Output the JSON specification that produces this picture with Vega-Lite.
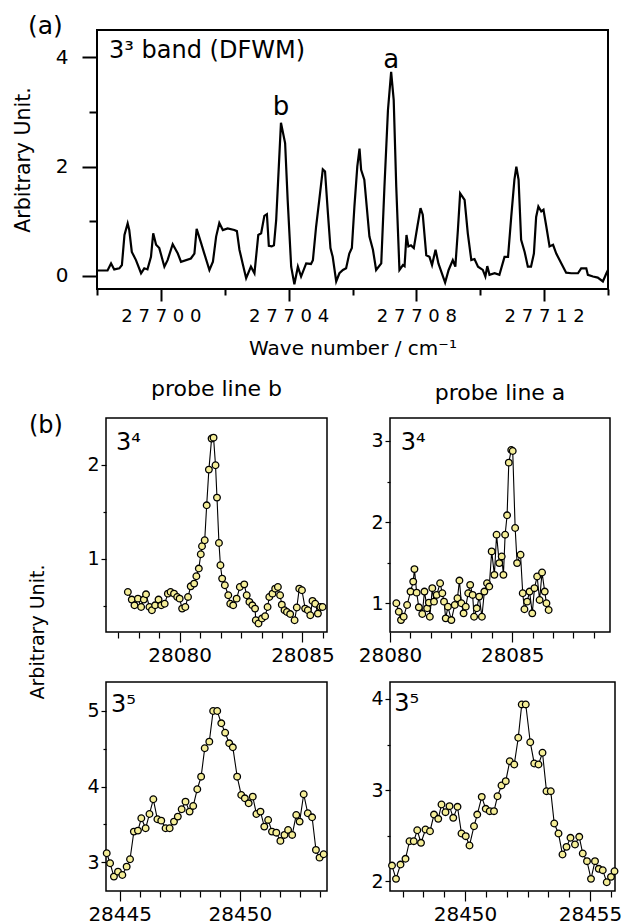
{
"$schema": "https://vega.github.io/schema/vega-lite/v6.json",
"background": "white",
"padding": {"left": 12, "top": 12, "right": 0, "bottom": 4},
"config": {
 "font": "DejaVu Sans",
 "view": {"stroke": "black", "strokeWidth": 1.5},
 "axis": {"domain": false, "grid": false, "labelFont": "DejaVu Sans", "titleFont": "DejaVu Sans", "labelColor": "black", "titleColor": "black", "tickColor": "black", "titleFontWeight": "normal", "labelFontSize": 19, "titleFontSize": 20, "labelFlush": false, "labelOverlap": false, "labelBound": false},
 "title": {"font": "DejaVu Sans", "fontWeight": "normal", "color": "black"},
 "text": {"font": "DejaVu Sans", "color": "black"}
},
"datasets": {
 "top": [
 {"x":27698.00,"y":0.10},{"x":27698.33,"y":0.10},{"x":27698.44,"y":0.23},{"x":27698.54,"y":0.12},{"x":27698.70,"y":0.14},{"x":27698.78,"y":0.20},{"x":27698.86,"y":0.75},{"x":27698.96,"y":0.96},{"x":27699.01,"y":0.84},{"x":27699.09,"y":0.44},{"x":27699.22,"y":0.29},{"x":27699.38,"y":0.05},{"x":27699.48,"y":0.14},{"x":27699.58,"y":0.12},{"x":27699.69,"y":0.35},{"x":27699.76,"y":0.78},{"x":27699.85,"y":0.57},{"x":27699.95,"y":0.51},{"x":27700.11,"y":0.17},{"x":27700.21,"y":0.29},{"x":27700.37,"y":0.58},{"x":27700.53,"y":0.41},{"x":27700.63,"y":0.26},{"x":27700.94,"y":0.32},{"x":27701.05,"y":0.41},{"x":27701.12,"y":0.86},{"x":27701.26,"y":0.60},{"x":27701.36,"y":0.41},{"x":27701.52,"y":0.11},{"x":27701.63,"y":0.26},{"x":27701.73,"y":0.72},{"x":27701.83,"y":0.97},{"x":27701.94,"y":0.84},{"x":27702.09,"y":0.87},{"x":27702.30,"y":0.84},{"x":27702.38,"y":0.82},{"x":27702.46,"y":0.48},{"x":27702.56,"y":0.23},{"x":27702.67,"y":-0.04},{"x":27702.82,"y":0.17},{"x":27702.93,"y":0.05},{"x":27703.05,"y":0.75},{"x":27703.14,"y":0.78},{"x":27703.24,"y":1.10},{"x":27703.32,"y":1.13},{"x":27703.38,"y":0.55},{"x":27703.47,"y":0.54},{"x":27703.54,"y":0.56},{"x":27703.61,"y":1.02},{"x":27703.76,"y":2.80},{"x":27703.89,"y":2.43},{"x":27703.97,"y":1.39},{"x":27704.08,"y":0.17},{"x":27704.18,"y":-0.15},{"x":27704.29,"y":0.17},{"x":27704.39,"y":-0.01},{"x":27704.55,"y":0.23},{"x":27704.70,"y":0.22},{"x":27704.76,"y":0.29},{"x":27704.86,"y":0.90},{"x":27704.96,"y":1.39},{"x":27705.07,"y":1.95},{"x":27705.14,"y":1.91},{"x":27705.23,"y":1.15},{"x":27705.31,"y":0.51},{"x":27705.38,"y":0.35},{"x":27705.49,"y":-0.10},{"x":27705.59,"y":0.05},{"x":27705.70,"y":0.11},{"x":27705.80,"y":0.14},{"x":27705.90,"y":0.41},{"x":27705.98,"y":0.51},{"x":27706.06,"y":1.27},{"x":27706.15,"y":2.00},{"x":27706.22,"y":2.33},{"x":27706.27,"y":1.94},{"x":27706.37,"y":1.76},{"x":27706.53,"y":0.72},{"x":27706.64,"y":0.48},{"x":27706.74,"y":0.11},{"x":27706.90,"y":0.23},{"x":27707.00,"y":1.63},{"x":27707.11,"y":3.03},{"x":27707.21,"y":3.73},{"x":27707.29,"y":3.22},{"x":27707.37,"y":1.63},{"x":27707.47,"y":0.11},{"x":27707.58,"y":0.20},{"x":27707.63,"y":0.18},{"x":27707.69,"y":0.75},{"x":27707.75,"y":0.54},{"x":27707.83,"y":0.56},{"x":27707.92,"y":0.51},{"x":27708.03,"y":0.90},{"x":27708.13,"y":1.24},{"x":27708.20,"y":1.12},{"x":27708.31,"y":0.38},{"x":27708.41,"y":0.35},{"x":27708.49,"y":0.20},{"x":27708.60,"y":0.48},{"x":27708.69,"y":0.23},{"x":27708.78,"y":0.08},{"x":27708.90,"y":-0.12},{"x":27709.01,"y":0.11},{"x":27709.14,"y":0.29},{"x":27709.22,"y":0.17},{"x":27709.30,"y":0.84},{"x":27709.37,"y":1.51},{"x":27709.51,"y":1.39},{"x":27709.61,"y":0.78},{"x":27709.72,"y":0.29},{"x":27709.82,"y":0.31},{"x":27709.93,"y":0.17},{"x":27710.08,"y":0.11},{"x":27710.16,"y":-0.01},{"x":27710.22,"y":0.18},{"x":27710.29,"y":0.02},{"x":27710.45,"y":0.05},{"x":27710.60,"y":0.02},{"x":27710.76,"y":0.35},{"x":27710.87,"y":0.35},{"x":27710.97,"y":1.08},{"x":27711.07,"y":1.76},{"x":27711.13,"y":2.00},{"x":27711.20,"y":1.76},{"x":27711.28,"y":0.66},{"x":27711.39,"y":0.44},{"x":27711.49,"y":0.17},{"x":27711.59,"y":0.17},{"x":27711.68,"y":0.41},{"x":27711.75,"y":1.08},{"x":27711.82,"y":1.27},{"x":27711.91,"y":1.18},{"x":27711.98,"y":1.21},{"x":27712.07,"y":0.90},{"x":27712.17,"y":0.54},{"x":27712.28,"y":0.57},{"x":27712.38,"y":0.41},{"x":27712.54,"y":0.23},{"x":27712.69,"y":0.06},{"x":27712.85,"y":0.05},{"x":27713.06,"y":0.05},{"x":27713.16,"y":0.14},{"x":27713.32,"y":0.14},{"x":27713.37,"y":0.02},{"x":27713.53,"y":-0.01},{"x":27713.68,"y":-0.03},{"x":27713.84,"y":-0.10},{"x":27713.95,"y":0.05},{"x":27714.00,"y":0.11}
 ],
 "b1": [
 {"x":28077.89,"y":0.645},{"x":28078.05,"y":0.564},{"x":28078.16,"y":0.503},{"x":28078.30,"y":0.574},{"x":28078.43,"y":0.485},{"x":28078.54,"y":0.564},{"x":28078.63,"y":0.620},{"x":28078.77,"y":0.485},{"x":28078.87,"y":0.45},{"x":28079.00,"y":0.503},{"x":28079.14,"y":0.564},{"x":28079.25,"y":0.503},{"x":28079.39,"y":0.52},{"x":28079.52,"y":0.627},{"x":28079.63,"y":0.645},{"x":28079.77,"y":0.627},{"x":28079.90,"y":0.592},{"x":28080.00,"y":0.574},{"x":28080.10,"y":0.468},{"x":28080.23,"y":0.485},{"x":28080.34,"y":0.592},{"x":28080.45,"y":0.705},{"x":28080.59,"y":0.734},{"x":28080.68,"y":0.812},{"x":28080.78,"y":0.894},{"x":28080.86,"y":1.046},{"x":28080.91,"y":1.131},{"x":28081.02,"y":1.195},{"x":28081.10,"y":1.567},{"x":28081.19,"y":1.947},{"x":28081.30,"y":2.277},{"x":28081.38,"y":2.287},{"x":28081.46,"y":1.993},{"x":28081.52,"y":1.649},{"x":28081.60,"y":1.166},{"x":28081.66,"y":0.929},{"x":28081.73,"y":0.787},{"x":28081.84,"y":0.716},{"x":28081.98,"y":0.610},{"x":28082.06,"y":0.52},{"x":28082.18,"y":0.503},{"x":28082.32,"y":0.574},{"x":28082.45,"y":0.698},{"x":28082.63,"y":0.726},{"x":28082.73,"y":0.610},{"x":28082.84,"y":0.539},{"x":28082.96,"y":0.503},{"x":28083.07,"y":0.468},{"x":28083.10,"y":0.344},{"x":28083.21,"y":0.309},{"x":28083.35,"y":0.362},{"x":28083.48,"y":0.387},{"x":28083.58,"y":0.485},{"x":28083.65,"y":0.592},{"x":28083.78,"y":0.627},{"x":28083.89,"y":0.68},{"x":28084.00,"y":0.698},{"x":28084.09,"y":0.61},{"x":28084.16,"y":0.51},{"x":28084.27,"y":0.45},{"x":28084.37,"y":0.432},{"x":28084.50,"y":0.41},{"x":28084.68,"y":0.344},{"x":28084.77,"y":0.48},{"x":28084.87,"y":0.68},{"x":28084.98,"y":0.663},{"x":28085.11,"y":0.468},{"x":28085.22,"y":0.45},{"x":28085.32,"y":0.397},{"x":28085.41,"y":0.55},{"x":28085.52,"y":0.52},{"x":28085.63,"y":0.415},{"x":28085.73,"y":0.485},{"x":28085.82,"y":0.485}
 ],
 "b2": [
 {"x":28080.26,"y":1.0},{"x":28080.36,"y":0.896},{"x":28080.45,"y":0.793},{"x":28080.56,"y":0.834},{"x":28080.70,"y":0.979},{"x":28080.84,"y":1.144},{"x":28080.95,"y":1.267},{"x":28081.00,"y":1.421},{"x":28081.09,"y":1.131},{"x":28081.18,"y":0.95},{"x":28081.32,"y":0.868},{"x":28081.41,"y":1.144},{"x":28081.52,"y":0.938},{"x":28081.59,"y":1.008},{"x":28081.63,"y":0.834},{"x":28081.73,"y":1.186},{"x":28081.80,"y":1.02},{"x":28081.91,"y":1.103},{"x":28082.05,"y":1.247},{"x":28082.14,"y":1.124},{"x":28082.21,"y":1.02},{"x":28082.28,"y":0.814},{"x":28082.37,"y":0.958},{"x":28082.51,"y":0.793},{"x":28082.65,"y":0.979},{"x":28082.76,"y":1.062},{"x":28082.84,"y":1.28},{"x":28082.92,"y":1.0},{"x":28083.01,"y":0.876},{"x":28083.10,"y":0.958},{"x":28083.20,"y":1.124},{"x":28083.28,"y":1.227},{"x":28083.38,"y":1.103},{"x":28083.44,"y":0.834},{"x":28083.55,"y":0.938},{"x":28083.65,"y":1.082},{"x":28083.76,"y":0.834},{"x":28083.86,"y":1.144},{"x":28083.97,"y":1.247},{"x":28084.06,"y":1.206},{"x":28084.16,"y":1.639},{"x":28084.27,"y":1.35},{"x":28084.36,"y":1.845},{"x":28084.47,"y":1.495},{"x":28084.57,"y":1.577},{"x":28084.64,"y":1.35},{"x":28084.71,"y":1.845},{"x":28084.79,"y":2.084},{"x":28084.86,"y":2.733},{"x":28084.96,"y":2.889},{"x":28085.02,"y":2.876},{"x":28085.12,"y":1.928},{"x":28085.20,"y":1.495},{"x":28085.34,"y":1.598},{"x":28085.43,"y":1.124},{"x":28085.50,"y":0.926},{"x":28085.61,"y":1.02},{"x":28085.71,"y":1.144},{"x":28085.82,"y":0.876},{"x":28085.91,"y":1.186},{"x":28086.02,"y":1.33},{"x":28086.12,"y":1.041},{"x":28086.22,"y":1.379},{"x":28086.33,"y":1.144},{"x":28086.40,"y":1.0},{"x":28086.49,"y":0.917}
 ],
 "b3": [
 {"x":28444.46,"y":3.12},{"x":28444.60,"y":2.988},{"x":28444.76,"y":2.811},{"x":28444.93,"y":2.877},{"x":28445.11,"y":2.833},{"x":28445.29,"y":2.943},{"x":28445.43,"y":3.041},{"x":28445.59,"y":3.406},{"x":28445.76,"y":3.419},{"x":28445.90,"y":3.582},{"x":28446.08,"y":3.45},{"x":28446.24,"y":3.639},{"x":28446.40,"y":3.833},{"x":28446.57,"y":3.569},{"x":28446.73,"y":3.551},{"x":28446.91,"y":3.45},{"x":28447.08,"y":3.45},{"x":28447.26,"y":3.538},{"x":28447.42,"y":3.604},{"x":28447.58,"y":3.701},{"x":28447.74,"y":3.802},{"x":28447.91,"y":3.67},{"x":28448.06,"y":3.745},{"x":28448.23,"y":3.966},{"x":28448.39,"y":4.132},{"x":28448.54,"y":4.507},{"x":28448.73,"y":4.595},{"x":28448.89,"y":5.0},{"x":28449.06,"y":5.0},{"x":28449.23,"y":4.837},{"x":28449.39,"y":4.713},{"x":28449.56,"y":4.573},{"x":28449.71,"y":4.52},{"x":28449.89,"y":4.132},{"x":28450.06,"y":3.89},{"x":28450.21,"y":3.846},{"x":28450.37,"y":3.78},{"x":28450.54,"y":3.868},{"x":28450.69,"y":3.639},{"x":28450.86,"y":3.67},{"x":28451.02,"y":3.472},{"x":28451.18,"y":3.56},{"x":28451.34,"y":3.406},{"x":28451.52,"y":3.392},{"x":28451.69,"y":3.283},{"x":28451.86,"y":3.362},{"x":28452.01,"y":3.428},{"x":28452.18,"y":3.362},{"x":28452.35,"y":3.626},{"x":28452.49,"y":3.538},{"x":28452.66,"y":3.9},{"x":28452.83,"y":3.648},{"x":28453.01,"y":3.595},{"x":28453.17,"y":3.164},{"x":28453.32,"y":3.062},{"x":28453.49,"y":3.107}
 ],
 "b4": [
 {"x":28447.08,"y":2.174},{"x":28447.24,"y":2.028},{"x":28447.42,"y":2.185},{"x":28447.62,"y":2.248},{"x":28447.78,"y":2.441},{"x":28447.95,"y":2.441},{"x":28448.09,"y":2.561},{"x":28448.24,"y":2.423},{"x":28448.42,"y":2.569},{"x":28448.60,"y":2.55},{"x":28448.76,"y":2.733},{"x":28448.93,"y":2.686},{"x":28449.06,"y":2.843},{"x":28449.22,"y":2.759},{"x":28449.38,"y":2.825},{"x":28449.53,"y":2.697},{"x":28449.70,"y":2.818},{"x":28449.86,"y":2.525},{"x":28450.03,"y":2.496},{"x":28450.18,"y":2.394},{"x":28450.36,"y":2.605},{"x":28450.49,"y":2.733},{"x":28450.67,"y":2.927},{"x":28450.83,"y":2.796},{"x":28450.99,"y":2.77},{"x":28451.16,"y":2.77},{"x":28451.30,"y":2.934},{"x":28451.46,"y":3.052},{"x":28451.63,"y":3.099},{"x":28451.79,"y":3.318},{"x":28451.97,"y":3.282},{"x":28452.13,"y":3.575},{"x":28452.27,"y":3.94},{"x":28452.43,"y":3.94},{"x":28452.61,"y":3.526},{"x":28452.77,"y":3.293},{"x":28452.94,"y":3.282},{"x":28453.10,"y":3.41},{"x":28453.26,"y":2.989},{"x":28453.43,"y":2.989},{"x":28453.57,"y":2.635},{"x":28453.74,"y":2.525},{"x":28453.90,"y":2.295},{"x":28454.06,"y":2.379},{"x":28454.22,"y":2.478},{"x":28454.40,"y":2.405},{"x":28454.57,"y":2.489},{"x":28454.71,"y":2.306},{"x":28454.88,"y":2.222},{"x":28455.04,"y":2.028},{"x":28455.20,"y":2.222},{"x":28455.35,"y":2.138},{"x":28455.51,"y":2.123},{"x":28455.67,"y":1.991},{"x":28455.84,"y":2.05},{"x":28455.98,"y":2.112}
 ]
},
"bounds": "flush",
"spacing": 129,
"vconcat": [
 {
  "width": 511, "height": 259,
  "view": {"stroke": "black", "strokeWidth": 2},
  "layer": [
   {"data": {"name": "top"}, "mark": {"type": "line", "color": "black", "strokeWidth": 2.2, "clip": true},
    "encoding": {
     "x": {"field": "x", "type": "quantitative", "scale": {"domain": [27698, 27714], "nice": false, "zero": false},
      "axis": {"orient": "bottom", "values": [27700, 27704, 27708, 27712], "format": "d", "labelExpr": "join(split(datum.label, ''), ' ')", "tickSize": 12, "tickWidth": 2, "labelFontSize": 18, "labelBaseline": "alphabetic", "labelPadding": 20, "title": "Wave number / cm⁻¹", "titleFontSize": 20, "titleBaseline": "alphabetic", "titleY": 65}},
     "y": {"field": "y", "type": "quantitative", "scale": {"domain": [-0.238, 4.497], "nice": false, "zero": false},
      "axis": {"orient": "left", "values": [0, 2, 4], "format": "d", "tickSize": 15, "tickWidth": 2, "labelFontSize": 20, "labelPadding": 14, "title": "Arbitrary Unit.", "titleFontSize": 20.5, "titleBaseline": "alphabetic", "titleX": -67.7, "titleY": 129.5}}
    }},
   {"data": {"name": "top"}, "mark": {"type": "line", "opacity": 0},
    "encoding": {
     "x": {"field": "x", "type": "quantitative", "scale": {"domain": [27698, 27714], "nice": false, "zero": false},
      "axis": {"orient": "bottom", "values": [27698, 27702, 27706, 27710, 27714], "labels": false, "tickSize": 6, "tickWidth": 2, "title": null}},
     "y": {"field": "y", "type": "quantitative", "scale": {"domain": [-0.238, 4.497], "nice": false, "zero": false},
      "axis": {"orient": "left", "values": [1, 3], "labels": false, "tickSize": 8, "tickWidth": 2, "title": null}}
    }},
   {"data": {"values": [{"x": 27698.376, "y": 3.985, "t": "3³ band (DFWM)"}]}, "mark": {"type": "text", "align": "left", "baseline": "alphabetic", "fontSize": 24},
    "encoding": {"x": {"field": "x", "type": "quantitative", "scale": {"domain": [27698, 27714], "nice": false, "zero": false}, "axis": null}, "y": {"field": "y", "type": "quantitative", "scale": {"domain": [-0.238, 4.497], "nice": false, "zero": false}, "axis": null}, "text": {"field": "t"}}},
   {"data": {"values": [{"x": 27703.76, "y": 2.943, "t": "b"}, {"x": 27707.21, "y": 3.797, "t": "a"}]}, "mark": {"type": "text", "align": "center", "baseline": "alphabetic", "fontSize": 26},
    "encoding": {"x": {"field": "x", "type": "quantitative", "scale": {"domain": [27698, 27714], "nice": false, "zero": false}, "axis": null}, "y": {"field": "y", "type": "quantitative", "scale": {"domain": [-0.238, 4.497], "nice": false, "zero": false}, "axis": null}, "text": {"field": "t"}}},
   {"data": {"values": [{"x": 27695.84, "y": 4.424, "t": "(a)"}]}, "mark": {"type": "text", "align": "left", "baseline": "alphabetic", "fontSize": 25},
    "encoding": {"x": {"field": "x", "type": "quantitative", "scale": {"domain": [27698, 27714], "nice": false, "zero": false}, "axis": null}, "y": {"field": "y", "type": "quantitative", "scale": {"domain": [-0.238, 4.497], "nice": false, "zero": false}, "axis": null}, "text": {"field": "t"}}}
  ],
  "resolve": {"axis": {"x": "independent", "y": "independent"}}
 },
 {
  "bounds": "flush",
  "spacing": 8,
  "hconcat": [
   {"width": 1, "height": 1, "view": {"stroke": null}, "data": {"values": []}, "mark": "point", "encoding": {}},
   {
    "bounds": "flush",
    "columns": 2,
    "spacing": {"row": 50, "column": 63},
    "concat": [
       {
        "width": 221, "height": 214,
        "title": {"text": "probe line b", "fontSize": 22, "offset": -4, "baseline": "alphabetic", "anchor": "middle", "frame": "group"},
        "layer": [
         {"data": {"name": "b1"}, "mark": {"type": "line", "color": "black", "strokeWidth": 1.1},
          "encoding": {
           "x": {"field": "x", "type": "quantitative", "scale": {"domain": [28077, 28086], "nice": false, "zero": false},
            "axis": {"orient": "bottom", "values": [28080, 28085], "format": "d", "tickSize": 10, "tickWidth": 1.2, "labelFontSize": 20, "labelBaseline": "alphabetic", "labelPadding": 19, "title": null}},
           "y": {"field": "y", "type": "quantitative", "scale": {"domain": [0.219, 2.496], "nice": false, "zero": false},
            "axis": {"orient": "left", "values": [1, 2], "format": "d", "tickSize": 5, "tickWidth": 1.2, "labelFontSize": 19, "labelPadding": 2, "title": "Arbitrary Unit.", "titleFontSize": 19, "titleBaseline": "alphabetic", "titleX": -63, "titleY": 213.5}}
          }},
         {"data": {"name": "b1"}, "mark": {"type": "circle", "color": "#f5ee98", "opacity": 1, "stroke": "black", "strokeWidth": 1.3, "size": 44},
          "encoding": {
           "x": {"field": "x", "type": "quantitative", "scale": {"domain": [28077, 28086], "nice": false, "zero": false},
            "axis": {"orient": "bottom", "values": [28077.5, 28078.3333, 28079.1667, 28080.8333, 28081.6667, 28082.5, 28083.3333, 28084.1667, 28085.8333], "labels": false, "tickSize": 6, "tickWidth": 1.2, "title": null}},
           "y": {"field": "y", "type": "quantitative", "scale": {"domain": [0.219, 2.496], "nice": false, "zero": false},
            "axis": {"orient": "left", "values": [0.5, 1.5], "labels": false, "tickSize": 3, "tickWidth": 1.2, "title": null}}
          }},
         {"data": {"values": [{"x": 28077.41, "y": 2.156, "t": "3⁴"}, {"x": 28073.86, "y": 2.336, "t": "(b)"}]}, "mark": {"type": "text", "align": "left", "baseline": "alphabetic", "fontSize": 24},
          "encoding": {"x": {"field": "x", "type": "quantitative", "scale": {"domain": [28077, 28086], "nice": false, "zero": false}, "axis": null}, "y": {"field": "y", "type": "quantitative", "scale": {"domain": [0.219, 2.496], "nice": false, "zero": false}, "axis": null}, "text": {"field": "t"}}}
        ],
        "resolve": {"axis": {"x": "independent", "y": "independent"}}
       },
       {
        "width": 220, "height": 214,
        "title": {"text": "probe line a", "fontSize": 22, "offset": -4, "baseline": "alphabetic", "anchor": "middle", "frame": "group"},
        "layer": [
         {"data": {"name": "b2"}, "mark": {"type": "line", "color": "black", "strokeWidth": 1.1},
          "encoding": {
           "x": {"field": "x", "type": "quantitative", "scale": {"domain": [28080, 28089], "nice": false, "zero": false},
            "axis": {"orient": "bottom", "values": [28080, 28085], "format": "d", "tickSize": 10, "tickWidth": 1.2, "labelFontSize": 20, "labelBaseline": "alphabetic", "labelPadding": 19, "title": null}},
           "y": {"field": "y", "type": "quantitative", "scale": {"domain": [0.646, 3.283], "nice": false, "zero": false},
            "axis": {"orient": "left", "values": [1, 2, 3], "format": "d", "tickSize": 5, "tickWidth": 1.2, "labelFontSize": 19, "labelPadding": 2, "title": null}}
          }},
         {"data": {"name": "b2"}, "mark": {"type": "circle", "color": "#f5ee98", "opacity": 1, "stroke": "black", "strokeWidth": 1.3, "size": 44},
          "encoding": {
           "x": {"field": "x", "type": "quantitative", "scale": {"domain": [28080, 28089], "nice": false, "zero": false},
            "axis": {"orient": "bottom", "values": [28080.8333, 28081.6667, 28082.5, 28083.3333, 28084.1667, 28085.8333, 28086.6667, 28087.5, 28088.3333], "labels": false, "tickSize": 6, "tickWidth": 1.2, "title": null}},
           "y": {"field": "y", "type": "quantitative", "scale": {"domain": [0.646, 3.283], "nice": false, "zero": false},
            "axis": {"orient": "left", "values": [1.5, 2.5], "labels": false, "tickSize": 3, "tickWidth": 1.2, "title": null}}
          }},
         {"data": {"values": [{"x": 28080.44, "y": 2.889, "t": "3⁴"}]}, "mark": {"type": "text", "align": "left", "baseline": "alphabetic", "fontSize": 24},
          "encoding": {"x": {"field": "x", "type": "quantitative", "scale": {"domain": [28080, 28089], "nice": false, "zero": false}, "axis": null}, "y": {"field": "y", "type": "quantitative", "scale": {"domain": [0.646, 3.283], "nice": false, "zero": false}, "axis": null}, "text": {"field": "t"}}}
        ],
        "resolve": {"axis": {"x": "independent", "y": "independent"}}
       },
       {
        "width": 221, "height": 209,
        "layer": [
         {"data": {"name": "b3"}, "mark": {"type": "line", "color": "black", "strokeWidth": 1.1, "clip": true},
          "encoding": {
           "x": {"field": "x", "type": "quantitative", "scale": {"domain": [28444.43, 28453.63], "nice": false, "zero": false},
            "axis": {"orient": "bottom", "values": [28445, 28450], "format": "d", "tickSize": 10, "tickWidth": 1.2, "labelFontSize": 20, "labelBaseline": "alphabetic", "labelPadding": 19, "title": null}},
           "y": {"field": "y", "type": "quantitative", "scale": {"domain": [2.621, 5.383], "nice": false, "zero": false},
            "axis": {"orient": "left", "values": [3, 4, 5], "format": "d", "tickSize": 5, "tickWidth": 1.2, "labelFontSize": 19, "labelPadding": 2, "title": null}}
          }},
         {"data": {"name": "b3"}, "mark": {"type": "circle", "color": "#f5ee98", "opacity": 1, "stroke": "black", "strokeWidth": 1.3, "size": 44},
          "encoding": {
           "x": {"field": "x", "type": "quantitative", "scale": {"domain": [28444.43, 28453.63], "nice": false, "zero": false},
            "axis": {"orient": "bottom", "values": [28445.8333, 28446.6667, 28447.5, 28448.3333, 28449.1667, 28450.8333, 28451.6667, 28452.5, 28453.3333], "labels": false, "tickSize": 6, "tickWidth": 1.2, "title": null}},
           "y": {"field": "y", "type": "quantitative", "scale": {"domain": [2.621, 5.383], "nice": false, "zero": false},
            "axis": {"orient": "left", "values": [3.5, 4.5], "labels": false, "tickSize": 3, "tickWidth": 1.2, "title": null}}
          }},
         {"data": {"values": [{"x": 28444.64, "y": 4.99, "t": "3⁵"}]}, "mark": {"type": "text", "align": "left", "baseline": "alphabetic", "fontSize": 24},
          "encoding": {"x": {"field": "x", "type": "quantitative", "scale": {"domain": [28444.43, 28453.63], "nice": false, "zero": false}, "axis": null}, "y": {"field": "y", "type": "quantitative", "scale": {"domain": [2.621, 5.383], "nice": false, "zero": false}, "axis": null}, "text": {"field": "t"}}}
        ],
        "resolve": {"axis": {"x": "independent", "y": "independent"}}
       },
       {
        "width": 225, "height": 209,
        "layer": [
         {"data": {"name": "b4"}, "mark": {"type": "line", "color": "black", "strokeWidth": 1.1, "clip": true},
          "encoding": {
           "x": {"field": "x", "type": "quantitative", "scale": {"domain": [28447, 28456], "nice": false, "zero": false},
            "axis": {"orient": "bottom", "values": [28450, 28455], "format": "d", "tickSize": 10, "tickWidth": 1.2, "labelFontSize": 20, "labelBaseline": "alphabetic", "labelPadding": 19, "title": null}},
           "y": {"field": "y", "type": "quantitative", "scale": {"domain": [1.895, 4.186], "nice": false, "zero": false},
            "axis": {"orient": "left", "values": [2, 3, 4], "format": "d", "tickSize": 5, "tickWidth": 1.2, "labelFontSize": 19, "labelPadding": 2, "title": null}}
          }},
         {"data": {"name": "b4"}, "mark": {"type": "circle", "color": "#f5ee98", "opacity": 1, "stroke": "black", "strokeWidth": 1.3, "size": 44},
          "encoding": {
           "x": {"field": "x", "type": "quantitative", "scale": {"domain": [28447, 28456], "nice": false, "zero": false},
            "axis": {"orient": "bottom", "values": [28447.5, 28448.3333, 28449.1667, 28450.8333, 28451.6667, 28452.5, 28453.3333, 28454.1667, 28455.8333], "labels": false, "tickSize": 6, "tickWidth": 1.2, "title": null}},
           "y": {"field": "y", "type": "quantitative", "scale": {"domain": [1.895, 4.186], "nice": false, "zero": false},
            "axis": {"orient": "left", "values": [2.5, 3.5], "labels": false, "tickSize": 3, "tickWidth": 1.2, "title": null}}
          }},
         {"data": {"values": [{"x": 28447.17, "y": 3.864, "t": "3⁵"}]}, "mark": {"type": "text", "align": "left", "baseline": "alphabetic", "fontSize": 24},
          "encoding": {"x": {"field": "x", "type": "quantitative", "scale": {"domain": [28447, 28456], "nice": false, "zero": false}, "axis": null}, "y": {"field": "y", "type": "quantitative", "scale": {"domain": [1.895, 4.186], "nice": false, "zero": false}, "axis": null}, "text": {"field": "t"}}}
        ],
        "resolve": {"axis": {"x": "independent", "y": "independent"}}
       }
    ]
   }
  ]
 }
]
}
